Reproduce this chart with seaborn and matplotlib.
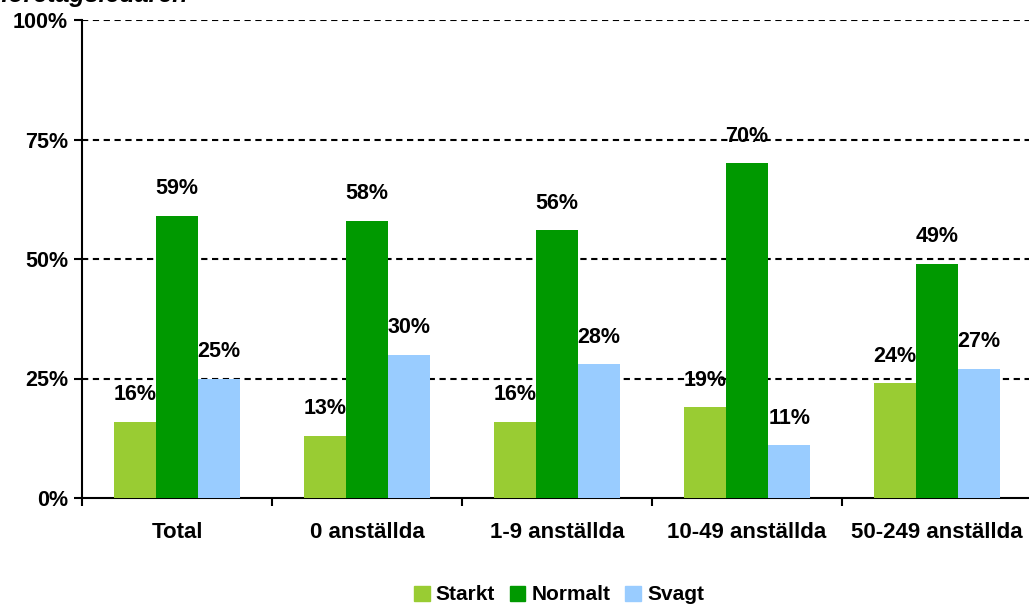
import numpy as np
import pandas as pd
import matplotlib
matplotlib.use("Agg")
import matplotlib.pyplot as plt
import seaborn as sns
from matplotlib.ticker import FixedLocator, PercentFormatter

categories = ["Total", "0 anställda", "1-9 anställda", "10-49 anställda", "50-249 anställda"]
series = ["Starkt", "Normalt", "Svagt"]
starkt = [16, 13, 16, 19, 24]
normalt = [59, 58, 56, 70, 49]
svagt = [25, 30, 28, 11, 27]
colors = ["#99CC33", "#009900", "#99CCFF"]

df = pd.DataFrame({
    "kategori": categories * 3,
    "serie": np.repeat(series, len(categories)),
    "andel": starkt + normalt + svagt,
})

sns.set_style("white")
plt.rcParams["font.family"] = ["Liberation Sans", "DejaVu Sans"]
plt.rcParams["font.weight"] = "bold"
plt.rcParams["text.color"] = "black"
plt.rcParams["xtick.color"] = "black"
plt.rcParams["ytick.color"] = "black"

fig = plt.figure(figsize=(10.29, 6.06), dpi=100)
ax = fig.add_axes([82 / 1029, 1 - 498 / 606, 950 / 1029, 478 / 606])

sns.barplot(data=df, x="kategori", y="andel", hue="serie", order=categories,
            hue_order=series, palette=colors, width=0.667, saturation=1,
            edgecolor="none", linewidth=0, legend=False, ax=ax, zorder=3)

ax.set_ylim(0, 100)
ax.set_xlim(-0.5, len(categories) - 0.5)
ax.yaxis.set_major_locator(FixedLocator([0, 25, 50, 75, 100]))
ax.yaxis.set_major_formatter(PercentFormatter(decimals=0))
for v in [25, 50, 75, 100]:
    ax.axhline(v, color="black", linestyle=(0, (3, 2.2)), linewidth=1.5, zorder=1)

ax.set_xlabel("")
ax.set_ylabel("")
for side in ["top", "right"]:
    ax.spines[side].set_visible(False)
for side in ["left", "bottom"]:
    ax.spines[side].set_color("black")
    ax.spines[side].set_linewidth(1.5)

ax.tick_params(axis="y", which="major", direction="out", length=6, width=1.5,
               labelsize=15.5, pad=4, left=True, labelcolor="black")
ax.tick_params(axis="x", which="major", length=0, labelsize=16, pad=17, labelcolor="black")
ax.set_xticks(np.arange(len(categories) + 1) - 0.5, minor=True)
ax.tick_params(axis="x", which="minor", direction="out", length=6, width=1.5, bottom=True)

for cont in ax.containers:
    for bar in cont:
        h = bar.get_height()
        ax.annotate(f"{h:.0f}%", (bar.get_x() + bar.get_width() / 2, h),
                    xytext=(0, 19.5), textcoords="offset points",
                    ha="center", va="center", fontsize=15.5, fontweight="bold",
                    color="black", zorder=5)

handles = [plt.Rectangle((0, 0), 1, 1, color=c) for c in colors]
fig.legend(handles, series, loc="center", bbox_to_anchor=(559 / 1029, 1 - 595 / 606),
           ncol=3, frameon=False, handlelength=0.75, handleheight=0.75,
           handletextpad=0.3, columnspacing=0.7, prop={"size": 15, "weight": "bold"})

fig.text(0.0, 1 - 2 / 606, "företagsledaren", fontsize=18, fontweight="bold",
         fontstyle="italic", ha="left", va="baseline", color="black")

fig.savefig("out.png", dpi=100)
